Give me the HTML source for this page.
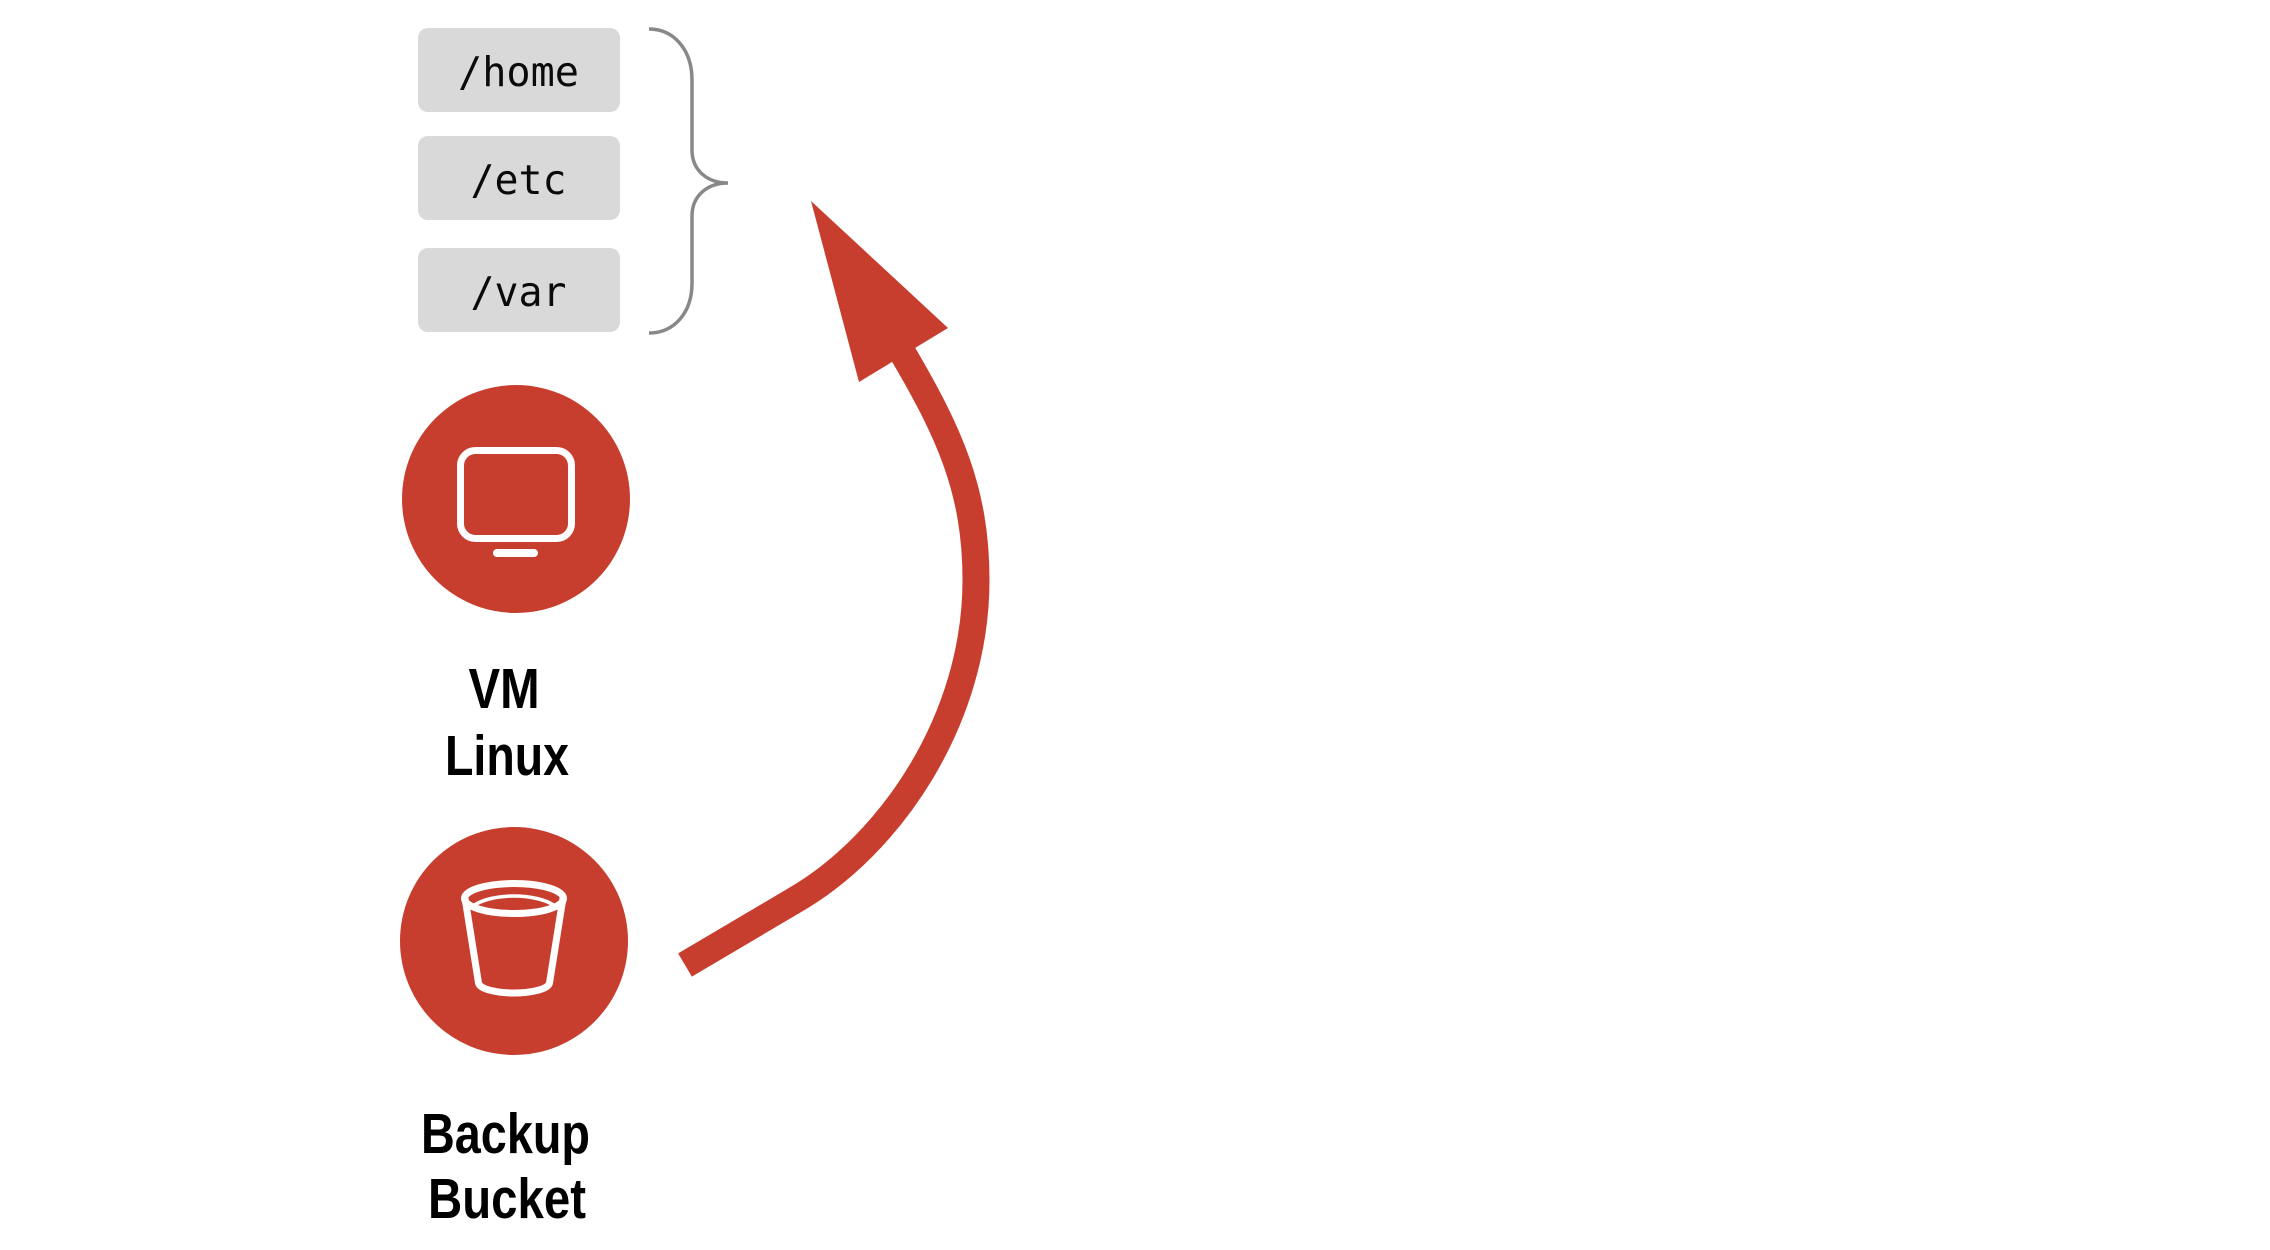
<!DOCTYPE html>
<html>
<head>
<meta charset="utf-8">
<style>
  html, body { margin: 0; padding: 0; background: #ffffff; }
  body { width: 2270px; height: 1250px; overflow: hidden; }
  svg { display: block; }
</style>
</head>
<body>
<svg width="2270" height="1250" viewBox="0 0 2270 1250" xmlns="http://www.w3.org/2000/svg">
  <rect x="0" y="0" width="2270" height="1250" fill="#ffffff"/>

  <!-- directory boxes -->
  <rect x="418" y="28" width="202" height="84" rx="10" ry="10" fill="#d9d9d9"/>
  <rect x="418" y="136" width="202" height="84" rx="10" ry="10" fill="#d9d9d9"/>
  <rect x="418" y="248" width="202" height="84" rx="10" ry="10" fill="#d9d9d9"/>

  <g font-family="'DejaVu Sans Mono', 'Liberation Mono', monospace" font-size="41" fill="#0a0a0a" text-anchor="middle">
    <text x="518.5" y="86" textLength="121" lengthAdjust="spacingAndGlyphs">/home</text>
    <text x="518.5" y="194" textLength="96" lengthAdjust="spacingAndGlyphs">/etc</text>
    <text x="518.5" y="306" textLength="96" lengthAdjust="spacingAndGlyphs">/var</text>
  </g>

  <!-- brace -->
  <path d="M649,29 C674,29 692,50 692,80 L692,150 C692,170 707,183 728,183 C707,183 692,196 692,216 L692,283 C692,313 674,333 649,333"
        fill="none" stroke="#888888" stroke-width="3.5"/>

  <!-- VM circle -->
  <circle cx="516" cy="499" r="114" fill="#c83e2e"/>
  <rect x="460.5" y="450.5" width="111" height="88" rx="15" ry="15" fill="none" stroke="#ffffff" stroke-width="7"/>
  <rect x="493" y="549" width="45" height="8" rx="4" ry="4" fill="#ffffff"/>

  <!-- Bucket circle -->
  <circle cx="514" cy="941" r="114" fill="#c83e2e"/>
  <path d="M465,898 L478.5,983 C480,990 500,993 514,993 C528,993 548,990 549.5,983 L563,898"
        fill="none" stroke="#ffffff" stroke-width="7" stroke-linejoin="round"/>
  <ellipse cx="514" cy="898.5" rx="49.5" ry="15" fill="none" stroke="#ffffff" stroke-width="7"/>
  <path d="M471,908 C480,899 500,896 514,896 C528,896 548,899 557,908" fill="none" stroke="#ffffff" stroke-width="3.5"/>

  <!-- labels -->
  <g font-family="'Liberation Sans Narrow', 'Liberation Sans', sans-serif" font-weight="bold" font-size="57" fill="#000000" text-anchor="middle">
    <text x="504" y="708" textLength="71" lengthAdjust="spacingAndGlyphs">VM</text>
    <text x="507" y="775" textLength="124" lengthAdjust="spacingAndGlyphs">Linux</text>
    <text x="505.5" y="1153" textLength="169" lengthAdjust="spacingAndGlyphs">Backup</text>
    <text x="507" y="1218" textLength="158" lengthAdjust="spacingAndGlyphs">Bucket</text>
  </g>

  <!-- curved arrow -->
  <path d="M685,965 L795,900 C890,845 976,720 976,580 C976,490 949,432 902,352"
        fill="none" stroke="#c83e2e" stroke-width="27"/>
  <polygon points="811,201 948,328 859,382" fill="#c83e2e"/>
</svg>
</body>
</html>
